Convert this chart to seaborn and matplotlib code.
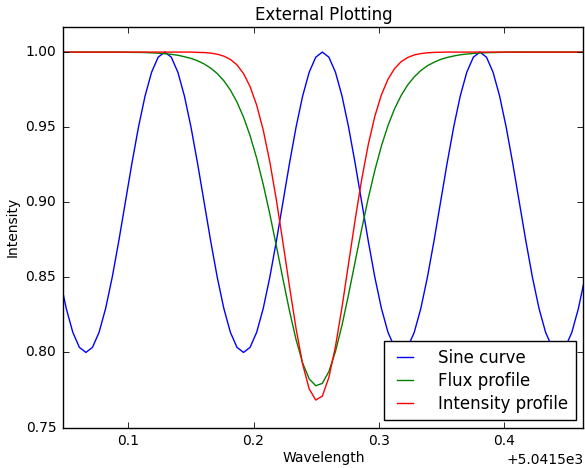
import matplotlib
matplotlib.use("Agg")
import matplotlib.pyplot as plt
import seaborn as sns
import numpy as np
import pandas as pd
from matplotlib.ticker import ScalarFormatter

plt.style.use("classic")

# ---------------- data (wavelength relative to offset) ----------------
wave_offset = 5041.5
wave_rel = [0.04500, 0.05025, 0.05550, 0.06075, 0.06600, 0.07125, 0.07650, 0.08175,
            0.08700, 0.09225, 0.09750, 0.10275, 0.10800, 0.11325, 0.11850, 0.12375,
            0.12900, 0.13425, 0.13950, 0.14475, 0.15000, 0.15525, 0.16050, 0.16575,
            0.17100, 0.17625, 0.18150, 0.18675, 0.19200, 0.19725, 0.20250, 0.20775,
            0.21300, 0.21825, 0.22350, 0.22875, 0.23400, 0.23925, 0.24450, 0.24975,
            0.25500, 0.26025, 0.26550, 0.27075, 0.27600, 0.28125, 0.28650, 0.29175,
            0.29700, 0.30225, 0.30750, 0.31275, 0.31800, 0.32325, 0.32850, 0.33375,
            0.33900, 0.34425, 0.34950, 0.35475, 0.36000, 0.36525, 0.37050, 0.37575,
            0.38100, 0.38625, 0.39150, 0.39675, 0.40200, 0.40725, 0.41250, 0.41775,
            0.42300, 0.42825, 0.43350, 0.43875, 0.44400, 0.44925, 0.45450, 0.45975,
            0.46500]

sine_curve = [0.85, 0.8293, 0.8134, 0.8034,
              0.8, 0.8034, 0.8134, 0.8293, 0.85, 0.8741, 0.9, 0.9259, 0.95, 0.9707, 0.9866, 0.9966,
              1.0, 0.9966, 0.9866, 0.9707, 0.95, 0.9259, 0.9, 0.8741, 0.85, 0.8293, 0.8134, 0.8034,
              0.8, 0.8034, 0.8134, 0.8293, 0.85, 0.8741, 0.9, 0.9259, 0.95, 0.9707, 0.9866, 0.9966,
              1.0, 0.9966, 0.9866, 0.9707, 0.95, 0.9259, 0.9, 0.8741, 0.85, 0.8293, 0.8134, 0.8034,
              0.8, 0.8034, 0.8134, 0.8293, 0.85, 0.8741, 0.9, 0.9259, 0.95, 0.9707, 0.9866, 0.9966,
              1.0, 0.9966, 0.9866, 0.9707, 0.95, 0.9259, 0.9, 0.8741, 0.85, 0.8293, 0.8134, 0.8034,
              0.8, 0.8034, 0.8134, 0.8293, 0.85]

flux_profile = [1.0, 1.0, 1.0, 1.0, 1.0, 1.0, 1.0, 1.0,
                1.0, 1.0, 0.9999, 0.9998, 0.9998, 0.9997, 0.9995, 0.9993,
                0.9989, 0.9985, 0.9979, 0.9969, 0.9958, 0.9942, 0.9921, 0.9893,
                0.9857, 0.9809, 0.9747, 0.9667, 0.9567, 0.9443, 0.9294, 0.9119,
                0.8922, 0.8709, 0.8490, 0.8277, 0.8085, 0.7930, 0.7824, 0.7778,
                0.7794, 0.7873, 0.8006, 0.8182, 0.8387, 0.8605, 0.8822, 0.9028,
                0.9213, 0.9375, 0.9511, 0.9622, 0.9711, 0.9781, 0.9835, 0.9877,
                0.9909, 0.9932, 0.9951, 0.9964, 0.9974, 0.9982, 0.9987, 0.9991,
                0.9994, 0.9996, 0.9997, 0.9998, 0.9999, 1.0, 1.0, 1.0,
                1.0, 1.0, 1.0, 1.0, 1.0, 1.0, 1.0, 1.0,
                1.0]

intensity_profile = [1.0, 1.0, 1.0, 1.0, 1.0, 1.0, 1.0, 1.0,
                     1.0, 1.0, 1.0, 1.0, 1.0, 1.0, 1.0, 1.0,
                     1.0, 1.0, 1.0, 1.0, 1.0, 0.9998, 0.9997, 0.9993,
                     0.9986, 0.9973, 0.9951, 0.9915, 0.9857, 0.9770, 0.9647, 0.9481,
                     0.9269, 0.9016, 0.8733, 0.8439, 0.8159, 0.7922, 0.7757, 0.7683,
                     0.7709, 0.7834, 0.8039, 0.8302, 0.8593, 0.8884, 0.9153, 0.9385,
                     0.9573, 0.9716, 0.9819, 0.9890, 0.9936, 0.9964, 0.9981, 0.9990,
                     0.9995, 0.9998, 0.9999, 1.0, 1.0, 1.0, 1.0, 1.0,
                     1.0, 1.0, 1.0, 1.0, 1.0, 1.0, 1.0, 1.0,
                     1.0, 1.0, 1.0, 1.0, 1.0, 1.0, 1.0, 1.0,
                     1.0]

series_names = ["Sine curve", "Flux profile", "Intensity profile"]
series_colors = ["b", "g", "r"]

wavelength = [wave_offset + v for v in wave_rel]
df = pd.DataFrame({
    "Wavelength": wavelength * 3,
    "Intensity": sine_curve + flux_profile + intensity_profile,
    "series": [series_names[0]] * len(wavelength)
              + [series_names[1]] * len(wavelength)
              + [series_names[2]] * len(wavelength),
})

# ---------------- figure ----------------
plt.rcParams["font.family"] = ["DejaVu Sans"]
plt.rcParams["font.size"] = 10

fig = plt.figure(figsize=(5.85, 4.68), dpi=100)
ax = fig.add_axes([0.1082, 0.0865, 0.9974 - 0.1082, 0.9423 - 0.0865])

for name, col in zip(series_names, series_colors):
    sub = df[df["series"] == name]
    sns.lineplot(data=sub, x="Wavelength", y="Intensity", color=col, label=name,
                 ax=ax, sort=False, linewidth=1.0, estimator=None)

ax.set_xlim(wave_offset + 0.0479, wave_offset + 0.4638)
ax.set_ylim(0.75, 1.0167)
ax.set_yticks([0.75, 0.80, 0.85, 0.90, 0.95, 1.00])
ax.set_yticklabels(["0.75", "0.80", "0.85", "0.90", "0.95", "1.00"])

fmt = ScalarFormatter(useOffset=wave_offset, useMathText=False)
ax.xaxis.set_major_formatter(fmt)

ax.tick_params(axis="both", which="major", direction="in", length=4, width=0.6,
               top=True, right=True, labelsize=10, pad=5)
ax.xaxis.get_offset_text().set_fontsize(10)

ax.set_title("External Plotting", fontsize=12, pad=5)
ax.set_xlabel("Wavelength", fontsize=10, labelpad=2)
ax.set_ylabel("Intensity", fontsize=10, labelpad=4)

leg = ax.legend(loc="lower right", fontsize=12, frameon=True, fancybox=False,
                shadow=False, handlelength=1.6, handletextpad=1.2,
                labelspacing=0.3, borderpad=0.45, borderaxespad=0.45, numpoints=2)
leg.get_frame().set_edgecolor("black")
leg.get_frame().set_linewidth(1.0)

fig.savefig("out.png", dpi=100)
